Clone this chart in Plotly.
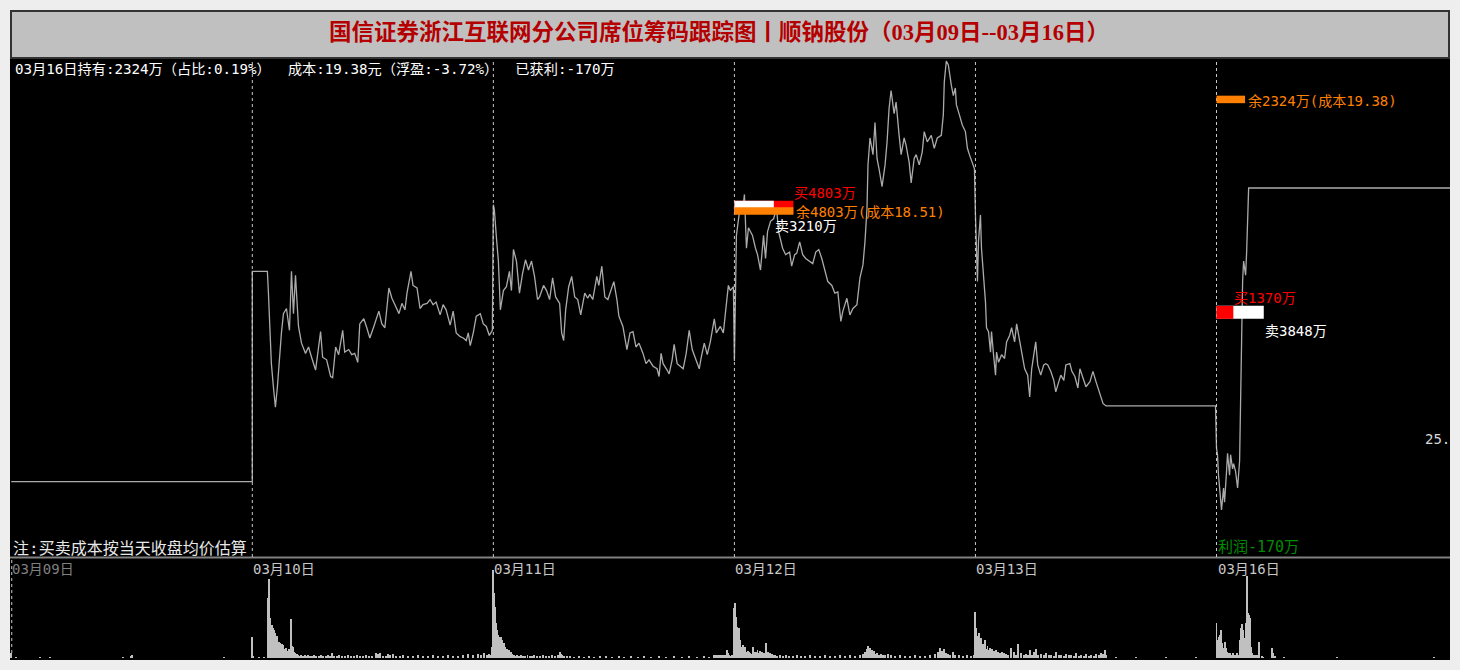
import plotly.graph_objects as go

W, H = 1460, 670
DAY_LEN = 240

# ---------------- data ----------------
dates = ["03月09日", "03月10日", "03月11日", "03月12日", "03月13日", "03月16日"]

# minute of session / price (元) for each trading day
d1_min = [0, 240]
d1_price = [16.37, 16.37]

d2_min = [0, 15, 16, 18, 19, 21, 23, 25, 27, 29, 31, 34, 37, 39, 41, 43, 46, 49, 53, 56, 59, 63, 66, 68, 70, 74,
          78, 80, 83, 86, 90, 92, 96, 99, 102, 105, 107, 111, 114, 117, 121, 126, 129, 132, 136, 139, 142, 146,
          149, 152, 154, 158, 160, 164, 167, 170, 174, 177, 180, 183, 187, 190, 193, 197, 200, 203, 207, 210,
          213, 215, 217, 220, 223, 227, 230, 233, 236, 239]
d2_price = [18.01, 18.01, 17.85, 17.55, 17.29, 17.11, 16.95, 17.11, 17.34, 17.53, 17.68, 17.72, 17.55, 18.01,
            17.68, 17.98, 17.58, 17.45, 17.37, 17.42, 17.34, 17.24, 17.42, 17.54, 17.34, 17.32, 17.19, 17.18,
            17.42, 17.36, 17.55, 17.38, 17.40, 17.36, 17.37, 17.30, 17.60, 17.64, 17.57, 17.49, 17.58, 17.70,
            17.60, 17.57, 17.88, 17.80, 17.75, 17.68, 17.76, 17.71, 17.84, 18.01, 17.90, 17.88, 17.72, 17.75,
            17.76, 17.79, 17.75, 17.77, 17.67, 17.75, 17.71, 17.59, 17.70, 17.53, 17.50, 17.49, 17.47, 17.53,
            17.43, 17.53, 17.66, 17.68, 17.60, 17.58, 17.51, 17.55]

d3_min = [0, 1, 3, 5, 7, 10, 13, 16, 18, 20, 23, 26, 29, 32, 35, 38, 41, 44, 46, 50, 53, 56, 59, 62, 66, 68, 70,
          72, 75, 78, 81, 84, 87, 91, 94, 96, 99, 103, 105, 108, 111, 114, 117, 120, 123, 125, 129, 133, 136,
          139, 142, 145, 149, 152, 155, 159, 163, 165, 167, 169, 173, 175, 178, 180, 183, 186, 189, 192, 195,
          198, 201, 205, 207, 210, 213, 216, 220, 222, 226, 229, 231, 234, 236, 239]
d3_price = [18.53, 18.49, 18.28, 18.09, 17.71, 17.86, 17.89, 18.01, 17.86, 18.18, 18.09, 17.84, 17.99, 18.10,
            18.02, 18.09, 17.97, 17.79, 17.81, 17.90, 17.86, 17.79, 17.96, 17.81, 17.76, 17.53, 17.47, 17.71,
            17.89, 17.97, 17.81, 17.79, 17.67, 17.84, 17.80, 17.83, 17.79, 17.97, 17.90, 18.05, 17.81, 17.79,
            17.86, 17.93, 17.79, 17.66, 17.58, 17.40, 17.53, 17.54, 17.42, 17.45, 17.37, 17.29, 17.32, 17.27,
            17.25, 17.19, 17.37, 17.29, 17.24, 17.21, 17.32, 17.44, 17.29, 17.27, 17.25, 17.37, 17.55, 17.40,
            17.33, 17.25, 17.34, 17.45, 17.36, 17.46, 17.64, 17.53, 17.58, 17.53, 17.68, 17.90, 17.86, 17.89]

d4_min = [0, 1, 2, 6, 8, 10, 12, 14, 18, 21, 23, 26, 29, 31, 33, 36, 39, 42, 44, 48, 51, 55, 57, 60, 62, 65, 68,
          71, 75, 78, 81, 84, 87, 90, 93, 97, 100, 103, 106, 108, 112, 115, 118, 122, 125, 128, 130, 132, 133,
          135, 138, 140, 142, 144, 147, 150, 152, 154, 156, 159, 161, 164, 166, 169, 171, 174, 176, 179, 181,
          184, 187, 189, 192, 196, 199, 202, 206, 208, 209, 211, 213, 216, 218, 220, 221, 224, 227, 230, 232,
          234, 237, 239]
d4_price = [17.31, 18.08, 18.29, 18.53, 18.47, 18.61, 18.19, 18.35, 18.29, 18.19, 18.14, 18.02, 18.29, 18.11,
            18.32, 18.40, 18.42, 18.50, 18.32, 18.19, 18.14, 18.16, 18.05, 18.14, 18.15, 18.24, 18.14, 18.11,
            18.09, 18.07, 18.16, 18.18, 18.11, 18.03, 17.93, 17.90, 17.84, 17.85, 17.62, 17.70, 17.80, 17.67,
            17.72, 17.75, 17.96, 18.06, 18.24, 18.50, 18.84, 19.05, 18.92, 19.17, 18.89, 18.81, 18.67, 18.84,
            19.02, 19.28, 19.42, 19.24, 19.33, 19.07, 18.92, 19.05, 18.99, 18.86, 18.70, 18.89, 18.92, 18.84,
            18.94, 19.10, 19.02, 19.07, 18.97, 19.05, 19.07, 19.23, 19.49, 19.65, 19.62, 19.46, 19.38, 19.44,
            19.31, 19.23, 19.15, 19.10, 18.97, 18.92, 18.86, 18.81]

d5_min = [0, 2, 3, 5, 6, 8, 9, 10, 11, 13, 15, 16, 18, 20, 21, 23, 26, 29, 31, 34, 36, 39, 41, 44, 46, 49, 52, 54,
          56, 58, 60, 62, 65, 68, 70, 72, 75, 78, 80, 83, 85, 88, 90, 94, 96, 99, 102, 104, 107, 110, 114, 117,
          120, 122, 125, 127, 130, 239]
d5_price = [18.45, 17.93, 18.24, 18.45, 18.19, 18.01, 17.88, 17.77, 17.57, 17.54, 17.38, 17.54, 17.36, 17.20,
            17.38, 17.30, 17.36, 17.33, 17.46, 17.51, 17.57, 17.46, 17.60, 17.46, 17.38, 17.25, 17.20, 17.03,
            17.25, 17.36, 17.46, 17.28, 17.20, 17.28, 17.29, 17.28, 17.23, 17.16, 17.07, 17.15, 17.20, 17.16,
            17.28, 17.29, 17.23, 17.19, 17.10, 17.25, 17.18, 17.11, 17.15, 17.23, 17.15, 17.10, 17.02, 16.98,
            16.96, 16.96]

d6_min = [0, 1, 2, 4, 5, 7, 8, 10, 11, 13, 14, 16, 17, 19, 21, 23, 24, 25, 26, 27, 29, 30, 32, 240]
d6_price = [16.63, 16.58, 16.42, 16.27, 16.15, 16.32, 16.21, 16.45, 16.59, 16.42, 16.58, 16.47, 16.51, 16.45,
            16.32, 16.53, 17.10, 17.72, 17.93, 18.09, 17.98, 18.16, 18.66, 18.66]

# minute volumes (only minutes with trades)
v1_min = [0, 5, 29, 39, 111, 119, 120, 212]
v1_vol = [5, 1, 1, 1, 1, 2, 3, 1]

v2_min = [0, 1, 7, 12, 16, 17, 18, 19, 20, 21, 22, 23, 24, 25, 26, 27, 28, 29, 30, 31, 32, 33, 34, 35, 36, 37,
          38, 39, 40, 41, 42, 43, 44, 45, 46, 47, 48, 50, 52, 54, 55, 57, 59, 61, 63, 66, 68, 70, 73, 75, 77, 79,
          81, 84, 86, 89, 92, 95, 98, 101, 104, 107, 110, 113, 116, 119, 123, 125, 127, 130, 133, 135, 137, 140,
          143, 147, 150, 155, 160, 165, 170, 175, 180, 185, 190, 195, 200, 205, 210, 215, 220, 225, 228, 231,
          234, 236, 238, 239]
v2_vol = [21, 2, 1, 1, 60, 79, 40, 31, 33, 30, 28, 25, 20, 22, 11, 16, 15, 10, 14, 13, 9, 8, 10, 7, 6, 9, 8, 39,
          12, 11, 6, 5, 3, 4, 3, 2, 3, 2, 3, 2, 3, 2, 2, 3, 2, 2, 3, 2, 2, 3, 2, 5, 2, 2, 3, 2, 2, 3, 2, 2, 3, 2,
          2, 3, 2, 2, 5, 4, 5, 2, 2, 4, 3, 4, 2, 2, 3, 2, 2, 3, 2, 2, 3, 2, 2, 3, 2, 2, 3, 4, 3, 4, 3, 5, 3, 4, 3,
          11]

v3_min = [0, 1, 2, 3, 4, 5, 6, 7, 8, 9, 10, 11, 12, 13, 14, 15, 16, 17, 18, 19, 20, 21, 22, 24, 26, 28, 30, 32,
          34, 36, 38, 40, 43, 46, 49, 52, 55, 58, 61, 64, 66, 67, 68, 70, 73, 76, 80, 85, 90, 95, 100, 106, 112,
          118, 125, 130, 137, 144, 150, 157, 165, 172, 180, 188, 195, 203, 210, 215, 220, 222, 224, 226, 228,
          230, 232, 233, 234, 235, 236, 238]
v3_vol = [88, 65, 51, 35, 28, 23, 20, 21, 21, 18, 11, 15, 11, 8, 9, 7, 8, 5, 6, 4, 3, 3, 2, 3, 2, 3, 2, 2, 3, 2,
          2, 3, 2, 2, 3, 2, 2, 3, 2, 3, 6, 4, 3, 2, 2, 2, 1, 2, 1, 2, 1, 2, 2, 1, 2, 1, 2, 1, 2, 1, 2, 1, 2, 1, 2,
          1, 2, 1, 3, 3, 3, 3, 3, 3, 3, 8, 5, 3, 2, 3]

v4_min = [0, 1, 2, 3, 4, 5, 6, 7, 8, 9, 10, 11, 12, 13, 14, 15, 16, 17, 18, 19, 20, 21, 22, 23, 24, 25, 26, 27,
          28, 29, 30, 31, 32, 33, 34, 35, 36, 37, 38, 40, 42, 45, 48, 51, 54, 58, 62, 66, 70, 75, 80, 85, 90, 95,
          100, 105, 110, 115, 120, 125, 128, 130, 132, 133, 134, 135, 136, 137, 138, 139, 140, 142, 144, 146,
          148, 150, 153, 156, 160, 165, 170, 175, 180, 185, 190, 195, 200, 203, 205, 207, 209, 211, 213, 215,
          218, 220, 224, 228, 232, 236, 239]
v4_vol = [50, 55, 41, 31, 25, 30, 18, 11, 8, 13, 7, 11, 6, 6, 7, 6, 5, 3, 4, 11, 5, 6, 6, 8, 5, 7, 5, 6, 4, 5, 4,
          15, 4, 6, 4, 5, 3, 4, 3, 3, 2, 3, 2, 3, 2, 2, 3, 2, 2, 3, 2, 2, 3, 2, 2, 3, 2, 3, 2, 3, 4, 6, 9, 12, 8,
          10, 6, 8, 5, 7, 4, 5, 3, 4, 3, 3, 4, 3, 2, 3, 2, 2, 3, 2, 2, 3, 4, 6, 10, 7, 9, 5, 4, 3, 6, 3, 3, 2, 3,
          2, 3]

v5_min = [0, 1, 2, 3, 4, 5, 6, 7, 8, 9, 10, 11, 12, 13, 14, 15, 16, 17, 18, 19, 20, 21, 22, 23, 24, 25, 26, 27,
          28, 29, 30, 32, 35, 38, 40, 42, 45, 48, 50, 52, 54, 56, 58, 60, 62, 65, 68, 70, 73, 75, 78, 80, 83, 85,
          88, 90, 93, 95, 98, 100, 103, 105, 108, 110, 113, 115, 118, 120, 123, 125, 127, 129, 130, 140, 160,
          190, 220]
v5_vol = [46, 30, 22, 18, 25, 15, 20, 12, 14, 10, 18, 9, 12, 8, 10, 7, 9, 6, 7, 5, 8, 5, 6, 4, 5, 4, 6, 3, 5, 3,
          4, 3, 10, 6, 3, 14, 5, 3, 4, 3, 8, 3, 6, 9, 3, 4, 3, 5, 3, 3, 2, 6, 3, 3, 2, 4, 3, 3, 2, 5, 2, 3, 2, 4,
          2, 3, 2, 4, 3, 5, 4, 8, 3, 1, 1, 1, 1]

v6_min = [0, 1, 2, 3, 4, 5, 6, 7, 8, 9, 10, 11, 12, 13, 14, 15, 16, 17, 18, 19, 20, 21, 22, 23, 24, 25, 26, 27,
          28, 29, 30, 31, 32, 33, 34, 35, 36, 37, 38, 39, 40, 42, 45, 46, 55, 56, 58, 67, 120, 217]
v6_vol = [35, 18, 21, 23, 28, 15, 10, 8, 16, 10, 6, 5, 4, 5, 3, 3, 5, 3, 3, 3, 5, 3, 3, 18, 30, 34, 28, 20, 16,
          35, 82, 45, 43, 40, 11, 5, 3, 3, 3, 2, 3, 16, 2, 1, 10, 5, 2, 1, 1, 1]

# seat activity (万) and prices
ev_day = [3, 5]
ev_buy = [4803, 1370]
ev_sell = [3210, 3848]
ev_remain = [4803, 2324]
ev_cost = [18.51, 19.38]
ev_trade = [18.51, 17.69]

hold_date = "03月16日"
hold_amt = 2324
hold_share = 0.19
hold_cost = 19.38
float_pct = -3.72
realized = -170
right_label = "25."

# ---------------- styling ----------------
MONO = "DejaVu Sans Mono, Noto Sans CJK SC, sans-serif"
PX_PER_WAN = 59 / 4803


def pxx(p):
    return p / W


def pxy(p):
    return 1 - p / H


price_days = [(d1_min, d1_price), (d2_min, d2_price), (d3_min, d3_price),
              (d4_min, d4_price), (d5_min, d5_price), (d6_min, d6_price)]
vol_days = [(v1_min, v1_vol), (v2_min, v2_vol), (v3_min, v3_vol),
            (v4_min, v4_vol), (v5_min, v5_vol), (v6_min, v6_vol)]

px_x, px_y = [], []
for d, (mins, prices) in enumerate(price_days):
    px_x += [d * DAY_LEN + m for m in mins]
    px_y += prices

vx, vy = [], []
for d, (mins, vols) in enumerate(vol_days):
    vx += [d * DAY_LEN + m for m in mins]
    vy += vols

fig = go.Figure()
fig.add_trace(go.Scatter(x=px_x, y=px_y, mode="lines", line=dict(color="#ababab", width=1.3),
                         hoverinfo="skip", showlegend=False))
fig.add_trace(go.Bar(x=vx, y=vy, width=1.0, marker=dict(color="#c0c0c0", line=dict(width=0)),
                     xaxis="x2", yaxis="y2", hoverinfo="skip", showlegend=False))

shapes = []
# black panel
shapes.append(dict(type="rect", xref="paper", yref="paper", x0=pxx(10), x1=pxx(1450), y0=pxy(660), y1=pxy(59),
                   fillcolor="black", line=dict(width=0), layer="below"))
# title box
shapes.append(dict(type="rect", xref="paper", yref="paper", x0=pxx(11), x1=pxx(1449), y0=pxy(58), y1=pxy(11),
                   fillcolor="#c0c0c0", line=dict(color="#333333", width=2), layer="below"))
# separator between price and volume
shapes.append(dict(type="line", xref="paper", yref="paper", x0=pxx(10), x1=pxx(1450), y0=pxy(557.5),
                   y1=pxy(557.5), line=dict(color="#808080", width=2)))
# day dividers
for d in range(1, len(dates)):
    shapes.append(dict(type="line", xref="x", yref="paper", x0=d * DAY_LEN, x1=d * DAY_LEN,
                       y0=pxy(557), y1=pxy(59), line=dict(color="#c8c8c8", width=1, dash="3px,3px")))
shapes.append(dict(type="line", xref="x", yref="paper", x0=0.5, x1=0.5, y0=pxy(653), y1=pxy(560),
                   line=dict(color="#c8c8c8", width=1, dash="3px,3px")))

annotations = []
for i, d in enumerate(ev_day):
    xa = d * DAY_LEN
    lb = ev_buy[i] * PX_PER_WAN
    ls = ev_sell[i] * PX_PER_WAN
    lr = ev_remain[i] * PX_PER_WAN
    bars = [(lb, "#ff0000"), (ls, "#ffffff")]
    bars.sort(key=lambda t: -t[0])
    for L, c in bars:
        shapes.append(dict(type="rect", xref="x", yref="y", xsizemode="pixel", xanchor=xa, x0=0, x1=L,
                           ysizemode="pixel", yanchor=ev_trade[i], y0=-6.5, y1=6.5,
                           fillcolor=c, line=dict(width=0)))
    shapes.append(dict(type="rect", xref="x", yref="y", xsizemode="pixel", xanchor=xa, x0=0, x1=lr,
                       ysizemode="pixel", yanchor=ev_cost[i], y0=-7.5, y1=0,
                       fillcolor="#ff8000", line=dict(width=0)))
    annotations.append(dict(x=xa, y=ev_trade[i], xref="x", yref="y", xshift=lb - 1, yshift=14.5,
                            xanchor="left", yanchor="middle", showarrow=False, text=f"买{ev_buy[i]}万",
                            font=dict(family=MONO, size=14, color="#ff0000")))
    annotations.append(dict(x=xa, y=ev_trade[i], xref="x", yref="y", xshift=ls - 1, yshift=-18.5,
                            xanchor="left", yanchor="middle", showarrow=False, text=f"卖{ev_sell[i]}万",
                            font=dict(family=MONO, size=14, color="#ffffff")))
    annotations.append(dict(x=xa, y=ev_cost[i], xref="x", yref="y", xshift=lr + 1, yshift=-5,
                            xanchor="left", yanchor="middle", showarrow=False,
                            text=f"余{ev_remain[i]}万(成本{ev_cost[i]:.2f})",
                            font=dict(family=MONO, size=14, color="#ff8000")))

# title
annotations.append(dict(x=pxx(719), y=pxy(32), xref="paper", yref="paper", xanchor="center", yanchor="middle",
                        showarrow=False,
                        text=f"<b>国信证券浙江互联网分公司席位筹码跟踪图丨顺钠股份（{dates[0]}--{dates[-1]}）</b>",
                        font=dict(family="Liberation Serif, Noto Sans CJK SC, serif", size=22.5, color="#b40000")))
# info line
info = (f"{hold_date}持有:{hold_amt}万（占比:{hold_share:.2f}%）\u00a0\u00a0成本:{hold_cost:.2f}元"
        f"（浮盈:{float_pct:.2f}%）\u00a0\u00a0已获利:{realized}万")
annotations.append(dict(x=pxx(13), y=pxy(69), xref="paper", yref="paper", xanchor="left", yanchor="middle",
                        showarrow=False, text=info, font=dict(family=MONO, size=14.2, color="#ffffff")))
# note
annotations.append(dict(x=pxx(11), y=pxy(548), xref="paper", yref="paper", xanchor="left", yanchor="middle",
                        showarrow=False, text="注:买卖成本按当天收盘均价估算",
                        font=dict(family=MONO, size=16, color="#e8e8e8")))
# profit
annotations.append(dict(x=ev_day[-1] * DAY_LEN, y=pxy(547), xref="x", yref="paper", xanchor="left",
                        yanchor="middle", showarrow=False, xshift=-1, text=f"利润{realized}万",
                        font=dict(family=MONO, size=15, color="#008c00")))
# right label
annotations.append(dict(x=pxx(1423), y=pxy(439), xref="paper", yref="paper", xanchor="left", yanchor="middle",
                        showarrow=False, text=right_label, font=dict(family=MONO, size=14, color="#d8d8d8")))
# day labels
for d, lab in enumerate(dates):
    annotations.append(dict(x=d * DAY_LEN, y=pxy(569), xref="x", yref="paper", xanchor="left",
                            yanchor="middle", showarrow=False, xshift=-1, text=lab,
                            font=dict(family=MONO, size=14, color="#808080" if d == 0 else "#c8c8c8")))

x0_data = (10 - 11.25) / (241.05 / 240)
x1_data = (1450 - 11.25) / (241.05 / 240)
ax_common = dict(visible=False, showgrid=False, zeroline=False, fixedrange=True)

fig.update_layout(
    width=W, height=H, autosize=False,
    margin=dict(l=0, r=0, t=0, b=0, pad=0),
    paper_bgcolor="#eeeeee", plot_bgcolor="black",
    xaxis=dict(domain=[pxx(10), pxx(1450)], range=[x0_data, x1_data], anchor="y", **ax_common),
    yaxis=dict(domain=[pxy(557), pxy(59)], range=[15.782, 19.666], anchor="x", **ax_common),
    xaxis2=dict(domain=[pxx(10), pxx(1450)], range=[x0_data, x1_data], anchor="y2", **ax_common),
    yaxis2=dict(domain=[pxy(658), pxy(559)], range=[0, 99], anchor="x2", **ax_common),
    shapes=shapes, annotations=annotations, bargap=0, showlegend=False,
)

fig.write_html("out.html")
